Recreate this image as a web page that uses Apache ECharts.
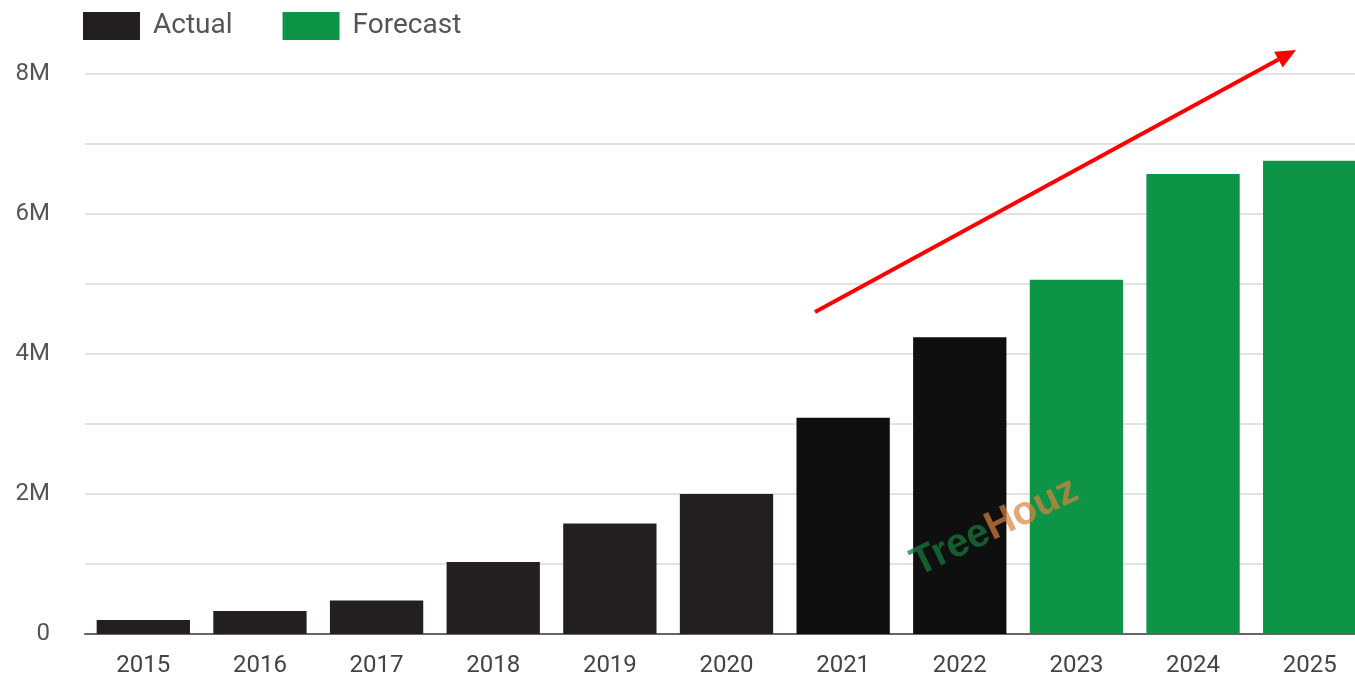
<!DOCTYPE html>
<html><head><meta charset="utf-8">
<script src="https://cdn.jsdelivr.net/npm/echarts@6/dist/echarts.min.js"></script>
<style>html,body{margin:0;padding:0;background:#fff;overflow:hidden}#c{width:1368px;height:682px}</style>
</head><body><div id="c"></div>
<script>
const categories = ['2015','2016','2017','2018','2019','2020','2021','2022','2023','2024','2025'];
const actualValues = [0.2e6, 0.33e6, 0.48e6, 1.03e6, 1.58e6, 2.0e6, 3.09e6, 4.24e6, null, null, null];
const forecastValues = [null, null, null, null, null, null, null, null, 5.06e6, 6.57e6, 6.76e6];
const yTicks = [0, 2e6, 4e6, 6e6, 8e6];

const chart = echarts.init(document.getElementById('c'));
const font = 'Roboto, "Open Sans", sans-serif';
const ax = 815, ay = 312, tx = 1296, ty = 50;
const dx = tx - ax, dy = ty - ay, len = Math.hypot(dx, dy);
const ux = dx / len, uy = dy / len;
const hl = 20, hw = 9;
const bx = tx - ux * hl, by = ty - uy * hl;

chart.setOption({
  animation: false,
  textStyle: { fontFamily: font },
  legend: {
    left: 78, top: 7, itemWidth: 57, itemHeight: 28, itemGap: 50,
    textStyle: { fontSize: 28, color: '#555', fontFamily: font, padding: [0, 0, 0, 8] },
    data: ['Actual', 'Forecast'], icon: 'rect'
  },
  grid: { left: 85, right: 0, top: 74, bottom: 48, containLabel: false },
  xAxis: {
    type: 'category', data: categories,
    axisLine: { lineStyle: { color: '#666', width: 2 } },
    axisTick: { show: false },
    axisLabel: { fontSize: 24, color: '#444', margin: 20, fontFamily: font }
  },
  yAxis: {
    type: 'value', min: 0, max: 8e6, interval: 1e6,
    axisLine: { show: false }, axisTick: { show: false },
    splitLine: { lineStyle: { color: '#e2e2e2', width: 2 } },
    axisLabel: {
      fontSize: 24, color: '#555', margin: 35, fontFamily: font,
      formatter: v => yTicks.includes(v) ? (v === 0 ? '0' : (v / 1e6) + 'M') : ''
    }
  },
  series: [
    {
      name: 'Actual', type: 'bar', stack: 'all', barWidth: '80%',
      data: actualValues,
      itemStyle: { color: p => (p.dataIndex >= 6 ? '#0f0f0f' : '#231f20') }
    },
    {
      name: 'Forecast', type: 'bar', stack: 'all', barWidth: '80%',
      data: forecastValues,
      itemStyle: { color: '#0e9447' }
    }
  ],
  color: ['#231f20', '#0e9447'],
  graphic: [
    {
      type: 'text', left: 905, top: 470, rotation: 0.45, z: 100,
      style: {
        text: '{a|Tree}{b|Houz}', font: 'bold 40px sans-serif',
        rich: {
          a: { fill: 'rgba(22,120,60,0.75)', fontSize: 40, fontWeight: 'bold' },
          b: { fill: 'rgba(220,130,60,0.7)', fontSize: 40, fontWeight: 'bold' }
        }
      }
    },
    {
      type: 'line', z: 101,
      shape: { x1: ax, y1: ay, x2: bx, y2: by },
      style: { stroke: '#ff0000', lineWidth: 4 }
    },
    {
      type: 'polygon', z: 101,
      shape: { points: [[tx, ty], [bx - uy * hw, by + ux * hw], [bx + uy * hw, by - ux * hw]] },
      style: { fill: '#ff0000' }
    }
  ]
});
</script>
</body></html>
